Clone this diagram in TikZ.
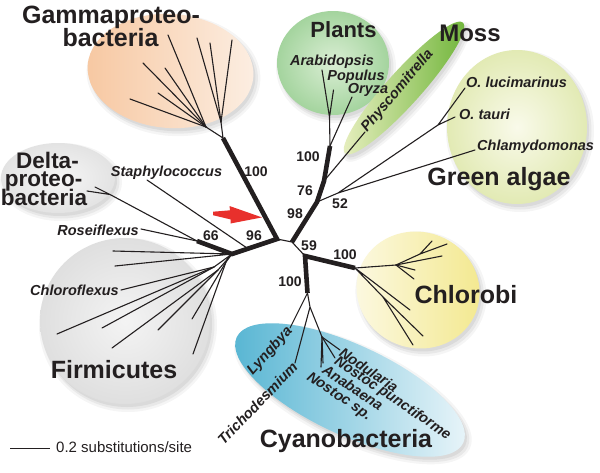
\documentclass[tikz,border=0pt]{standalone}
\usepackage{fontspec}
\setmainfont{Liberation Sans}
\definecolor{txt}{HTML}{231F20}
\definecolor{arrowred}{HTML}{E8302C}
\newcommand\mybubble[6]{%
  \fill[black,opacity=0.04,shift={(#1+3,#2+4)},rotate=#5] (0,0) ellipse [x radius=#3+4, y radius=#4+4];
  \fill[black,opacity=0.05,shift={(#1+3,#2+4)},rotate=#5] (0,0) ellipse [x radius=#3+1.5, y radius=#4+1.5];
  \fill[black,opacity=0.06,shift={(#1+2,#2+3)},rotate=#5] (0,0) ellipse [x radius=#3, y radius=#4];
  \shade[#6,shift={(#1,#2)},rotate=#5] (0,0) ellipse [x radius=#3, y radius=#4];
}
\begin{document}
\begin{tikzpicture}[x=1pt,y=-1pt,
  br/.style={line width=1.1pt, line cap=round, txt},
  tk/.style={line width=4.6pt, line join=miter, txt},
  grp/.style={font=\fontsize{25}{25}\selectfont\bfseries, text=txt, inner sep=0pt, anchor=base},
  tax/.style={font=\fontsize{14.5}{15}\selectfont\bfseries\itshape, text=txt, inner sep=0pt},
  bsv/.style={font=\fontsize{14}{14}\selectfont\bfseries, text=txt, inner sep=0pt}]
\useasboundingbox (0,0) rectangle (600,472);
\fill[white] (0,0) rectangle (600,472);

% ---------- bubbles ----------
\mybubble{125}{321}{85}{83}{0}{inner color=gray!9, outer color=gray!25}
\mybubble{58}{178}{57}{35}{0}{inner color=gray!7, outer color=gray!22}
\mybubble{170.5}{71}{83}{57}{-4}{left color={rgb,255:red,247;green,200;blue,162}, right color={rgb,255:red,252;green,238;blue,226}}
\mybubble{333}{63}{56}{52}{0}{inner color={rgb,255:red,218;green,238;blue,212}, outer color={rgb,255:red,164;green,212;blue,158}}
\mybubble{404}{88}{88}{17}{48}{left color={rgb,255:red,234;green,240;blue,194}, right color={rgb,255:red,110;green,180;blue,56}}
\mybubble{517}{127}{70}{77}{0}{inner color={rgb,255:red,249;green,250;blue,234}, outer color={rgb,255:red,226;green,234;blue,180}}
\mybubble{418}{290}{62}{58}{-20}{left color={rgb,255:red,252;green,249;blue,228}, right color={rgb,255:red,243;green,232;blue,140}}
\mybubble{350}{390}{125}{45}{-25}{left color={rgb,255:red,84;green,180;blue,210}, right color={rgb,255:red,236;green,246;blue,250}}

% ---------- coordinates ----------
\coordinate (L) at (277,239);
\coordinate (R) at (292,242);
\coordinate (N59) at (305,256);
\coordinate (G0) at (223,138);
\coordinate (NF) at (232,254);
\coordinate (N66) at (197,241);
\coordinate (N98) at (317,202);
\coordinate (N76) at (324,181);
\coordinate (NP) at (330,146);
\coordinate (NC) at (355,268);
\coordinate (NY) at (307.5,293);
% gamma
\coordinate (GA) at (206,127);
\coordinate (GB) at (221,122);
\coordinate (g1) at (130,99);
\coordinate (g2) at (143,63);
\coordinate (g3) at (158,93);
\coordinate (g4) at (165,68);
\coordinate (g5) at (168,35);
\coordinate (g6) at (197,38);
\coordinate (g7) at (210,43);
\coordinate (g8) at (232,40);
% delta etc.
\coordinate (D1) at (110,194.5);
\coordinate (d1) at (95,187);
\coordinate (d2) at (87,191);
\coordinate (rose) at (141,229);
\coordinate (staph) at (147,180);
\coordinate (S1) at (247,248);
% firmicutes
\coordinate (F1) at (214,267);
\coordinate (F2) at (218,270);
\coordinate (F3) at (226,262);
\coordinate (f1) at (113,251);
\coordinate (f2) at (115,266);
\coordinate (chl) at (121,290);
\coordinate (f4) at (57,334);
\coordinate (f5) at (102,328);
\coordinate (f6) at (112,348);
\coordinate (f7) at (158,330);
\coordinate (f8) at (192,319);
\coordinate (f9) at (193,354);
% plants / moss / algae
\coordinate (P1) at (329.5,117);
\coordinate (arab) at (322,70);
\coordinate (popu) at (333.5,90);
\coordinate (oryz) at (352,97);
\coordinate (phys) at (365,132);
\coordinate (N52) at (338,193);
\coordinate (NO) at (438,125);
\coordinate (oluc) at (465,88);
\coordinate (otau) at (455,117);
\coordinate (chla) at (475,150);
% chlorobi
\coordinate (C1) at (396,265);
\coordinate (C1a) at (420,254);
\coordinate (C3) at (383,297);
\coordinate (c1) at (432,241);
\coordinate (c2) at (447,244);
\coordinate (c3) at (442,256);
\coordinate (c4) at (415,270);
\coordinate (c5) at (414,279);
\coordinate (c6) at (410,310);
\coordinate (c7) at (423,336);
\coordinate (c8) at (413,345);
% cyanobacteria
\coordinate (Y1) at (310,307);
\coordinate (Y2) at (322,337);
\coordinate (lyng) at (290,328);
\coordinate (tric) at (295,363);
\coordinate (nodu) at (340,350);
\coordinate (npun) at (335,358);
\coordinate (anab) at (323,363);
\coordinate (nsp) at (321,367);
% scale bar
\coordinate (sb1) at (10,448);
\coordinate (sb2) at (50,448);

% ---------- thin branches ----------
\draw[br] (L) -- (R) -- (N59);
\draw[br] (G0) -- (GA) (G0) -- (GB);
\foreach \t in {g1,g2,g3,g4,g5} \draw[br] (GA) -- (\t);
\foreach \t in {g6,g7,g8} \draw[br] (GB) -- (\t);
\draw[br] (N66) -- (D1) -- (d1) (D1) -- (d2);
\draw[br] (N66) -- (rose);
\draw[br] (S1) -- (staph);
\draw[br] (NF) -- (f1) (NF) -- (f2);
\draw[br] (NF) -- (F1) (NF) -- (F2) (NF) -- (F3);
\foreach \t in {chl,f4,f5} \draw[br] (F1) -- (\t);
\foreach \t in {f6,f7} \draw[br] (F2) -- (\t);
\foreach \t in {f8,f9} \draw[br] (F3) -- (\t);
\draw[br] (NP) -- (P1) -- (arab) (P1) -- (popu);
\draw[br] (NP) -- (oryz);
\draw[br] (N76) -- (phys);
\draw[br] (N98) -- (N52) -- (chla) (N52) -- (NO) -- (oluc) (NO) -- (otau);
\draw[br] (NC) -- (C1) -- (C1a) -- (c1) (C1a) -- (c2);
\foreach \t in {c3,c4,c5} \draw[br] (C1) -- (\t);
\draw[br] (NC) -- (c6) (NC) -- (C3) -- (c7) (C3) -- (c8);
\draw[br] (NY) -- (lyng) (NY) -- (Y1) -- (tric) (Y1) -- (Y2);
\foreach \t in {nodu,npun,anab,nsp} \draw[br] (Y2) -- (\t);
\draw[line width=1pt, txt] (sb1) -- (sb2);

% ---------- thick branches ----------
\draw[tk] (G0) -- (L) -- (NF) -- (N66);
\draw[tk] (NP) -- (N76) -- (N98) -- (R);
\draw[tk] (NC) -- (N59) -- (NY);

% ---------- red arrow ----------
\fill[arrowred] (213,211.7) -- (230,210.3) -- (229.5,206) -- (262,217.4) -- (230.5,223.5) -- (230.5,219.4) -- (213,215.2) -- cycle;

% ---------- group labels ----------
\node[grp] (gam1) at (111,23.5) {Gammaproteo-};
\node[grp] (gam2) at (110.5,46.7) {bacteria};
\node[grp, font=\fontsize{22.5}{22.5}\selectfont\bfseries] (del1) at (47.5,168) {Delta-};
\node[grp, font=\fontsize{22.5}{22.5}\selectfont\bfseries] (del2) at (43.5,186.5) {proteo-};
\node[grp, font=\fontsize{22.5}{22.5}\selectfont\bfseries] (del3) at (44,205) {bacteria};
\node[grp, font=\fontsize{22}{22}\selectfont\bfseries] (plants) at (343.5,37) {Plants};
\node[grp, font=\fontsize{24}{24}\selectfont\bfseries] (moss) at (470,41.7) {Moss};
\node[grp] (algae) at (499,185) {Green algae};
\node[grp] (chlorobi) at (466,303) {Chlorobi};
\node[grp] (cyano) at (346,447) {Cyanobacteria};
\node[grp] (firm) at (114,378) {Firmicutes};
\node[font=\fontsize{15}{15}\selectfont, text=txt, inner sep=0pt, anchor=base west] (scale) at (56,452.5) {0.2 substitutions/site};

% ---------- taxon labels ----------
\node[tax, anchor=base] (lstaph) at (166.5,176) {Staphylococcus};
\node[tax, anchor=base east] (lrose) at (139,235) {Roseiflexus};
\node[tax, anchor=base east] (lchl) at (119,295) {Chloroflexus};
\node[tax, anchor=base] (larab) at (332,65) {Arabidopsis};
\node[tax, anchor=base] (lpopu) at (356,80.5) {Populus};
\node[tax, anchor=base] (loryz) at (368,93.5) {Oryza};
\node[tax, anchor=base west] (loluc) at (466,87.5) {O. lucimarinus};
\node[tax, anchor=base west] (lotau) at (459,119.5) {O. tauri};
\node[tax, anchor=base west] (lchla) at (477,150) {Chlamydomonas};
\node[tax, anchor=base west, rotate=50] (lphys) at (367,133) {Physcomitrella};
\node[tax, anchor=east, rotate=48] (llyng) at (290,329) {Lyngbya};
\node[tax, anchor=east, rotate=46] (ltric) at (295,364.5) {Trichodesmium};
\node[tax, anchor=west, rotate=-34] (lnodu) at (341,351) {Nodularia};
\node[tax, anchor=west, rotate=-34] (lnpun) at (335.5,360) {Nostoc punctiforme};
\node[tax, anchor=west, rotate=-34] (lanab) at (324,368) {Anabaena};
\node[tax, anchor=west, rotate=-34] (lnsp) at (308,376) {Nostoc sp.};

% ---------- support values ----------
\node[bsv] (s100g) at (256,172) {100};
\node[bsv] (s66) at (211,236) {66};
\node[bsv] (s96) at (254,236) {96};
\node[bsv] (s98) at (295,214) {98};
\node[bsv] (s76) at (305,191) {76};
\node[bsv] (s100p) at (308,157) {100};
\node[bsv] (s52) at (340,204) {52};
\node[bsv] (s59) at (309,246) {59};
\node[bsv] (s100c) at (345,255) {100};
\node[bsv] (s100y) at (290,282) {100};
\end{tikzpicture}
\end{document}
